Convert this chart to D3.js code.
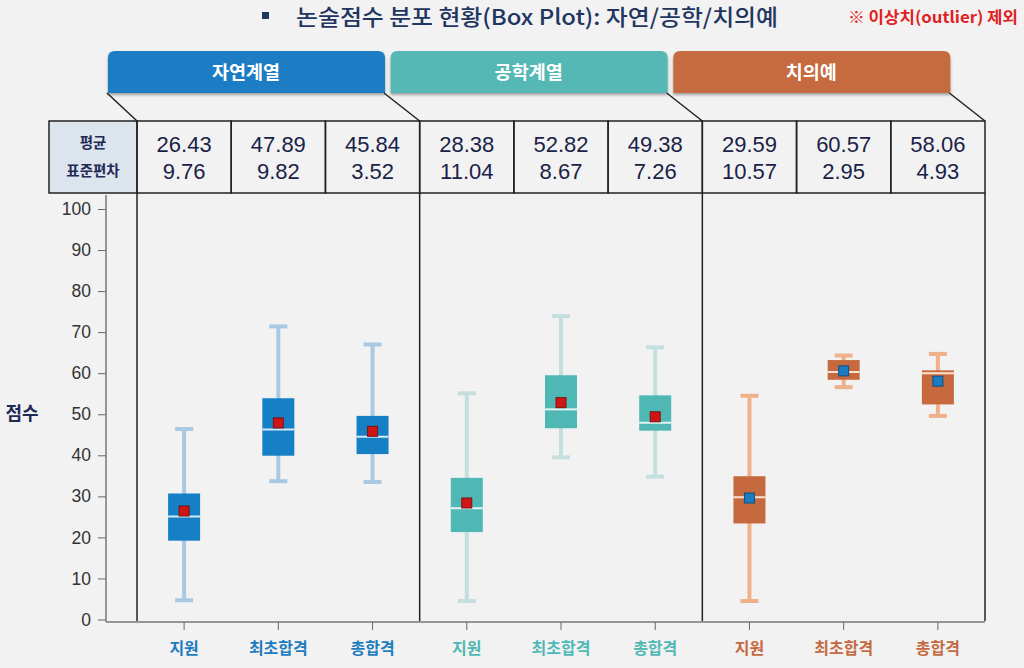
<!DOCTYPE html>
<html>
<head>
<meta charset="utf-8">
<style>
  body { margin: 0; background: #f2f2f2; }
  svg { display: block; font-family: "Noto Sans CJK KR", "Noto Sans", sans-serif; }
  .num { font-family: "Liberation Sans", Arial, sans-serif; }
</style>
</head>
<body>
<svg id="chart" width="1024" height="668"></svg>

<script src="https://cdn.jsdelivr.net/npm/d3@7"></script>
<script>
// groups and stages (x categories)
var groupNames = ["자연계열", "공학계열", "치의예"];
var stageNames = ["지원", "최초합격", "총합격"];

// table values (mean / sd) per box, in order group x stage
var meanValues = [26.43, 47.89, 45.84, 28.38, 52.82, 49.38, 29.59, 60.57, 58.06];
var sdValues   = [9.76, 9.82, 3.52, 11.04, 8.67, 7.26, 10.57, 2.95, 4.93];

// box plot values
var minValues    = [4.7, 33.7, 33.5, 4.5, 39.5, 34.8, 4.5, 56.6, 49.6];
var q1Values     = [19.2, 39.9, 40.3, 21.3, 46.6, 46.0, 23.4, 58.4, 52.4];
var medianValues = [25.1, 46.3, 44.5, 27.1, 51.2, 47.9, 29.8, 60.3, 60.0];
var q3Values     = [30.7, 53.9, 49.6, 34.5, 59.5, 54.6, 34.9, 63.2, 60.7];
var maxValues    = [46.4, 71.4, 67.0, 55.1, 73.9, 66.3, 54.5, 64.3, 64.7];

var yTicks = [0, 10, 20, 30, 40, 50, 60, 70, 80, 90, 100];

// colours per group
var boxColor     = ["#1580c5", "#4fb7b4", "#c6693e"];
var whiskerColor = ["#a9c9e3", "#c4dfdd", "#efb08a"];
var medianColor  = ["#d4eaf8", "#e3f5f4", "#fbe3d2"];
var markColor    = ["#d01515", "#d01515", "#1b7cc4"];
var markStroke   = ["#7a1212", "#7a1212", "#0f4f80"];
var bannerColor  = ["#1a7cc4", "#55b8b4", "#c66b41"];
var labelColor   = ["#1b7cbf", "#4fb8b4", "#c56a40"];

var svg = d3.select("#chart");

var defs = svg.append("defs");
defs.append("filter").attr("id", "shadow")
    .attr("x", "-5%").attr("y", "-20%").attr("width", "110%").attr("height", "150%")
  .append("feDropShadow")
    .attr("dx", 0).attr("dy", 2).attr("stdDeviation", 1.5)
    .attr("flood-color", "#000").attr("flood-opacity", 0.35);

var boxes = meanValues.map(function(m, i) {
  return { i: i, g: Math.floor(i / 3), stage: stageNames[i % 3],
           mean: m, sd: sdValues[i], min: minValues[i], q1: q1Values[i],
           med: medianValues[i], q3: q3Values[i], max: maxValues[i] };
});

var x = d3.scaleBand()
    .domain(d3.range(boxes.length))
    .range([137, 985]);

var y = d3.scaleLinear()
    .domain([0, 100])
    .range([619.5, 209]);

var bw = x.bandwidth();

// title
svg.append("rect")
    .attr("x", 262).attr("y", 12).attr("width", 7).attr("height", 7)
    .attr("fill", "#1f3660");
svg.append("text")
    .attr("x", 296).attr("y", 25)
    .attr("font-size", 22).attr("font-weight", 500)
    .attr("fill", "#1f3660")
    .attr("textLength", 482).attr("lengthAdjust", "spacingAndGlyphs")
    .text("논술점수 분포 현황(Box Plot): 자연/공학/치의예");
svg.append("text")
    .attr("x", 1018).attr("y", 23)
    .attr("text-anchor", "end")
    .attr("font-size", 16).attr("font-weight", 700)
    .attr("fill", "#e02222")
    .attr("textLength", 170).attr("lengthAdjust", "spacingAndGlyphs")
    .text("※ 이상치(outlier) 제외");

// banners
var groupStart = function(g) { return x(g * 3); };
var groupEnd = function(g) { return x(g * 3 + 2) + bw; };

function bannerPath(x0, x1, y0, y1, r) {
  return "M" + x0 + "," + y1 + "V" + (y0 + r) + "Q" + x0 + "," + y0 + " " + (x0 + r) + "," + y0 +
         "H" + (x1 - r) + "Q" + x1 + "," + y0 + " " + x1 + "," + (y0 + r) + "V" + y1 + "Z";
}

var banner = svg.append("g").selectAll("g")
    .data(groupNames)
  .enter().append("g");

banner.append("path")
    .attr("d", function(d, g) { var s = groupStart(g) - 29; return bannerPath(s, s + 277, 51, 93, 7); })
    .attr("fill", function(d, g) { return bannerColor[g]; })
    .attr("filter", "url(#shadow)");

banner.append("text")
    .attr("x", function(d, g) { return groupStart(g) - 29 + 138; })
    .attr("y", 73)
    .attr("dy", "0.35em")
    .attr("text-anchor", "middle")
    .attr("font-size", 18.5).attr("font-weight", 700)
    .attr("fill", "#fff")
    .text(function(d) { return d; });

// diagonal connectors
svg.append("line")
    .attr("x1", groupStart(0) - 30).attr("y1", 93)
    .attr("x2", groupStart(0)).attr("y2", 121)
    .attr("stroke", "#222").attr("stroke-width", 1.5);
svg.append("g").selectAll("line")
    .data(groupNames)
  .enter().append("line")
    .attr("x1", function(d, g) { return groupStart(g) + 247; }).attr("y1", 93)
    .attr("x2", function(d, g) { return groupEnd(g); }).attr("y2", 121)
    .attr("stroke", "#222").attr("stroke-width", 1.5);

// table
var table = svg.append("g");
table.append("rect")
    .attr("x", 49).attr("y", 121).attr("width", 137 - 49).attr("height", 72)
    .attr("fill", "#dce4ee").attr("stroke", "#222").attr("stroke-width", 1.5);
table.append("text")
    .attr("x", 93).attr("y", 143).attr("dy", "0.35em")
    .attr("text-anchor", "middle").attr("font-size", 14.5).attr("font-weight", 700)
    .attr("fill", "#1f2a55").text("평균");
table.append("text")
    .attr("x", 93).attr("y", 171).attr("dy", "0.35em")
    .attr("text-anchor", "middle").attr("font-size", 14.5).attr("font-weight", 700)
    .attr("fill", "#1f2a55").text("표준편차");

var cell = table.selectAll("g.cell")
    .data(boxes)
  .enter().append("g").attr("class", "cell");

cell.append("rect")
    .attr("x", function(d) { return x(d.i); })
    .attr("y", 121).attr("width", bw).attr("height", 72)
    .attr("fill", "none").attr("stroke", "#222").attr("stroke-width", 1.5);
cell.append("text")
    .attr("class", "num")
    .attr("x", function(d) { return x(d.i) + bw / 2; })
    .attr("y", 144).attr("dy", "0.35em")
    .attr("text-anchor", "middle").attr("font-size", 22)
    .attr("fill", "#1a2248")
    .text(function(d) { return d.mean.toFixed(2); });
cell.append("text")
    .attr("class", "num")
    .attr("x", function(d) { return x(d.i) + bw / 2; })
    .attr("y", 171).attr("dy", "0.35em")
    .attr("text-anchor", "middle").attr("font-size", 22)
    .attr("fill", "#1a2248")
    .text(function(d) { return d.sd.toFixed(2); });

// group divider lines
svg.append("g").selectAll("line")
    .data([0, 1, 2, 3])
  .enter().append("line")
    .attr("x1", function(g) { return g < 3 ? groupStart(g) : groupEnd(2); })
    .attr("x2", function(g) { return g < 3 ? groupStart(g) : groupEnd(2); })
    .attr("y1", 193).attr("y2", 621)
    .attr("stroke", "#222").attr("stroke-width", 1.5);

// axes
var yAxis = svg.append("g")
    .attr("transform", "translate(106,0)")
    .call(d3.axisLeft(y).tickValues(yTicks).tickSize(8).tickPadding(7));
yAxis.select(".domain").remove();
yAxis.selectAll(".tick line").attr("stroke", "#666");
yAxis.selectAll(".tick text").attr("class", "num").attr("font-size", 17.5).attr("fill", "#333");

svg.append("line")
    .attr("x1", 106).attr("x2", 106).attr("y1", 195).attr("y2", 622)
    .attr("stroke", "#777").attr("stroke-width", 1.5);
svg.append("line")
    .attr("x1", 106).attr("x2", 985).attr("y1", 622).attr("y2", 622)
    .attr("stroke", "#777").attr("stroke-width", 1.5);

var xAxis = svg.append("g")
    .attr("transform", "translate(0,622)")
    .call(d3.axisBottom(x).tickSize(8).tickPadding(13)
      .tickFormat(function(i) { return stageNames[i % 3]; }));
xAxis.select(".domain").remove();
xAxis.selectAll(".tick line").attr("stroke", "#666");
xAxis.selectAll(".tick text")
    .attr("font-family", "'Noto Sans CJK KR', sans-serif")
    .attr("font-size", 16).attr("font-weight", 700)
    .attr("fill", function(i) { return labelColor[Math.floor(i / 3)]; });

svg.append("text")
    .attr("x", 22).attr("y", 414).attr("dy", "0.35em")
    .attr("text-anchor", "middle")
    .attr("font-size", 18).attr("font-weight", 700)
    .attr("fill", "#1f2a55")
    .text("점수");

// box plots
var boxW = 32, capW = 18;
var plot = svg.append("g").selectAll("g")
    .data(boxes)
  .enter().append("g")
    .attr("transform", function(d) { return "translate(" + (x(d.i) + bw / 2) + ",0)"; });

plot.append("line")
    .attr("x1", 0).attr("x2", 0)
    .attr("y1", function(d) { return y(d.min); })
    .attr("y2", function(d) { return y(d.max); })
    .attr("stroke", function(d) { return whiskerColor[d.g]; })
    .attr("stroke-width", 4);
plot.append("line")
    .attr("x1", -capW / 2).attr("x2", capW / 2)
    .attr("y1", function(d) { return y(d.min); })
    .attr("y2", function(d) { return y(d.min); })
    .attr("stroke", function(d) { return whiskerColor[d.g]; })
    .attr("stroke-width", 4);
plot.append("line")
    .attr("x1", -capW / 2).attr("x2", capW / 2)
    .attr("y1", function(d) { return y(d.max); })
    .attr("y2", function(d) { return y(d.max); })
    .attr("stroke", function(d) { return whiskerColor[d.g]; })
    .attr("stroke-width", 4);
plot.append("rect")
    .attr("x", -boxW / 2).attr("width", boxW)
    .attr("y", function(d) { return y(d.q3); })
    .attr("height", function(d) { return y(d.q1) - y(d.q3); })
    .attr("fill", function(d) { return boxColor[d.g]; });
plot.append("line")
    .attr("x1", -boxW / 2).attr("x2", boxW / 2)
    .attr("y1", function(d) { return y(d.med); })
    .attr("y2", function(d) { return y(d.med); })
    .attr("stroke", function(d) { return medianColor[d.g]; })
    .attr("stroke-width", 2);
plot.append("rect")
    .attr("x", -5).attr("width", 10).attr("height", 10)
    .attr("y", function(d) { return y(d.mean) - 5; })
    .attr("fill", function(d) { return markColor[d.g]; })
    .attr("stroke", function(d) { return markStroke[d.g]; })
    .attr("stroke-width", 1);
</script>
</body>
</html>
